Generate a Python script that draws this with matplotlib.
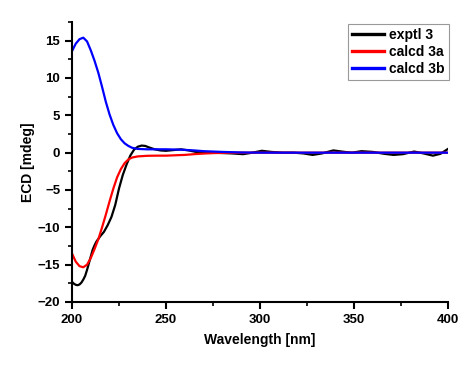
import numpy as np
import matplotlib
matplotlib.use('Agg')
import matplotlib.pyplot as plt
from matplotlib.ticker import MultipleLocator

plt.rcParams['font.family'] = ['Liberation Sans', 'DejaVu Sans']
plt.rcParams['font.weight'] = 'bold'

# exptl 3
wl_exp = [200, 201, 202, 203, 204, 205, 206, 207, 208, 209, 210, 211, 212, 213, 215, 217, 219,
          221, 223, 225, 227, 229, 231, 233, 235, 237, 239, 241, 244, 247, 250, 254, 258, 262,
          266, 270, 275, 280, 285, 291, 296, 301, 306, 312, 318, 323, 328, 333, 339, 345, 349,
          354, 360, 366, 371, 376, 382, 387, 392, 396, 400]
ecd_exp = [-17.3, -17.55, -17.7, -17.75, -17.65, -17.4, -17.0, -16.5, -15.7, -14.8, -13.9,
           -13.0, -12.4, -11.9, -11.2, -10.6, -9.7, -8.6, -7.0, -4.8, -3.0, -1.6, -0.4, 0.4,
           0.8, 0.95, 0.9, 0.7, 0.45, 0.3, 0.25, 0.35, 0.45, 0.3, 0.1, 0.0, 0.0, -0.05, -0.1,
           -0.2, 0.0, 0.25, 0.1, 0.0, 0.0, -0.1, -0.3, -0.1, 0.3, 0.1, 0.0, 0.2, 0.1, -0.15,
           -0.3, -0.2, 0.15, -0.1, -0.4, -0.15, 0.5]

# calcd 3a
wl_a = [200, 202, 204, 206, 208, 210, 212, 214, 216, 218, 220, 222, 224, 226, 228, 230, 232,
        235, 240, 245, 250, 255, 260, 265, 270, 275, 280, 290, 400]
ecd_a = [-13.5, -14.6, -15.2, -15.35, -15.0, -14.1, -12.9, -11.6, -10.0, -8.3, -6.5, -4.8,
         -3.3, -2.2, -1.4, -0.9, -0.65, -0.5, -0.42, -0.4, -0.4, -0.35, -0.3, -0.2, -0.12,
         -0.06, -0.03, 0.0, 0.0]

# calcd 3b
wl_b = [200, 202, 204, 206, 208, 210, 212, 214, 216, 218, 220, 222, 224, 226, 228, 230, 232,
        235, 240, 250, 258, 265, 270, 280, 290, 300, 400]
ecd_b = [13.6, 14.6, 15.2, 15.4, 14.9, 13.7, 12.3, 10.7, 8.8, 6.8, 5.1, 3.7, 2.6, 1.8, 1.25,
         0.9, 0.65, 0.5, 0.45, 0.45, 0.4, 0.3, 0.2, 0.1, 0.03, 0.0, 0.0]

fig = plt.figure(figsize=(4.76, 3.70), dpi=100)
ax = fig.add_axes([72/476, 1 - 302/370, (448 - 72)/476, (302 - 22)/370])

ax.plot(wl_exp, ecd_exp, color='black', lw=1.6, label='exptl 3')
ax.plot(wl_a, ecd_a, color='red', lw=1.6, label='calcd 3a')
ax.plot(wl_b, ecd_b, color='blue', lw=1.6, label='calcd 3b')

ax.set_xlim(200, 400)
ax.set_ylim(-20, 17.5)
ax.xaxis.set_major_locator(MultipleLocator(50))
ax.xaxis.set_minor_locator(MultipleLocator(25))
ax.yaxis.set_major_locator(MultipleLocator(5))
ax.yaxis.set_minor_locator(MultipleLocator(2.5))
ax.spines['top'].set_visible(False)
ax.spines['right'].set_visible(False)
for s in ['left', 'bottom']:
    ax.spines[s].set_linewidth(1.5)
ax.tick_params(which='major', direction='out', length=5, width=1.5, labelsize=9.5)
ax.tick_params(which='minor', direction='out', length=3, width=1.2)

ax.set_xlabel('Wavelength [nm]', fontsize=10, fontweight='bold', labelpad=5)
ax.set_ylabel('ECD [mdeg]', fontsize=10, fontweight='bold', labelpad=2)

leg = ax.legend(loc='upper left', bbox_to_anchor=(348/476, 1 - 24/370),
                bbox_transform=fig.transFigure, fontsize=10, frameon=True, fancybox=False,
                borderaxespad=0, borderpad=0.3, handlelength=2.3, handletextpad=0.35,
                labelspacing=0.2)
leg.get_frame().set_edgecolor('gray')
leg.get_frame().set_linewidth(0.8)
for line in leg.get_lines():
    line.set_linewidth(2.4)

fig.savefig('out.png', dpi=100)
